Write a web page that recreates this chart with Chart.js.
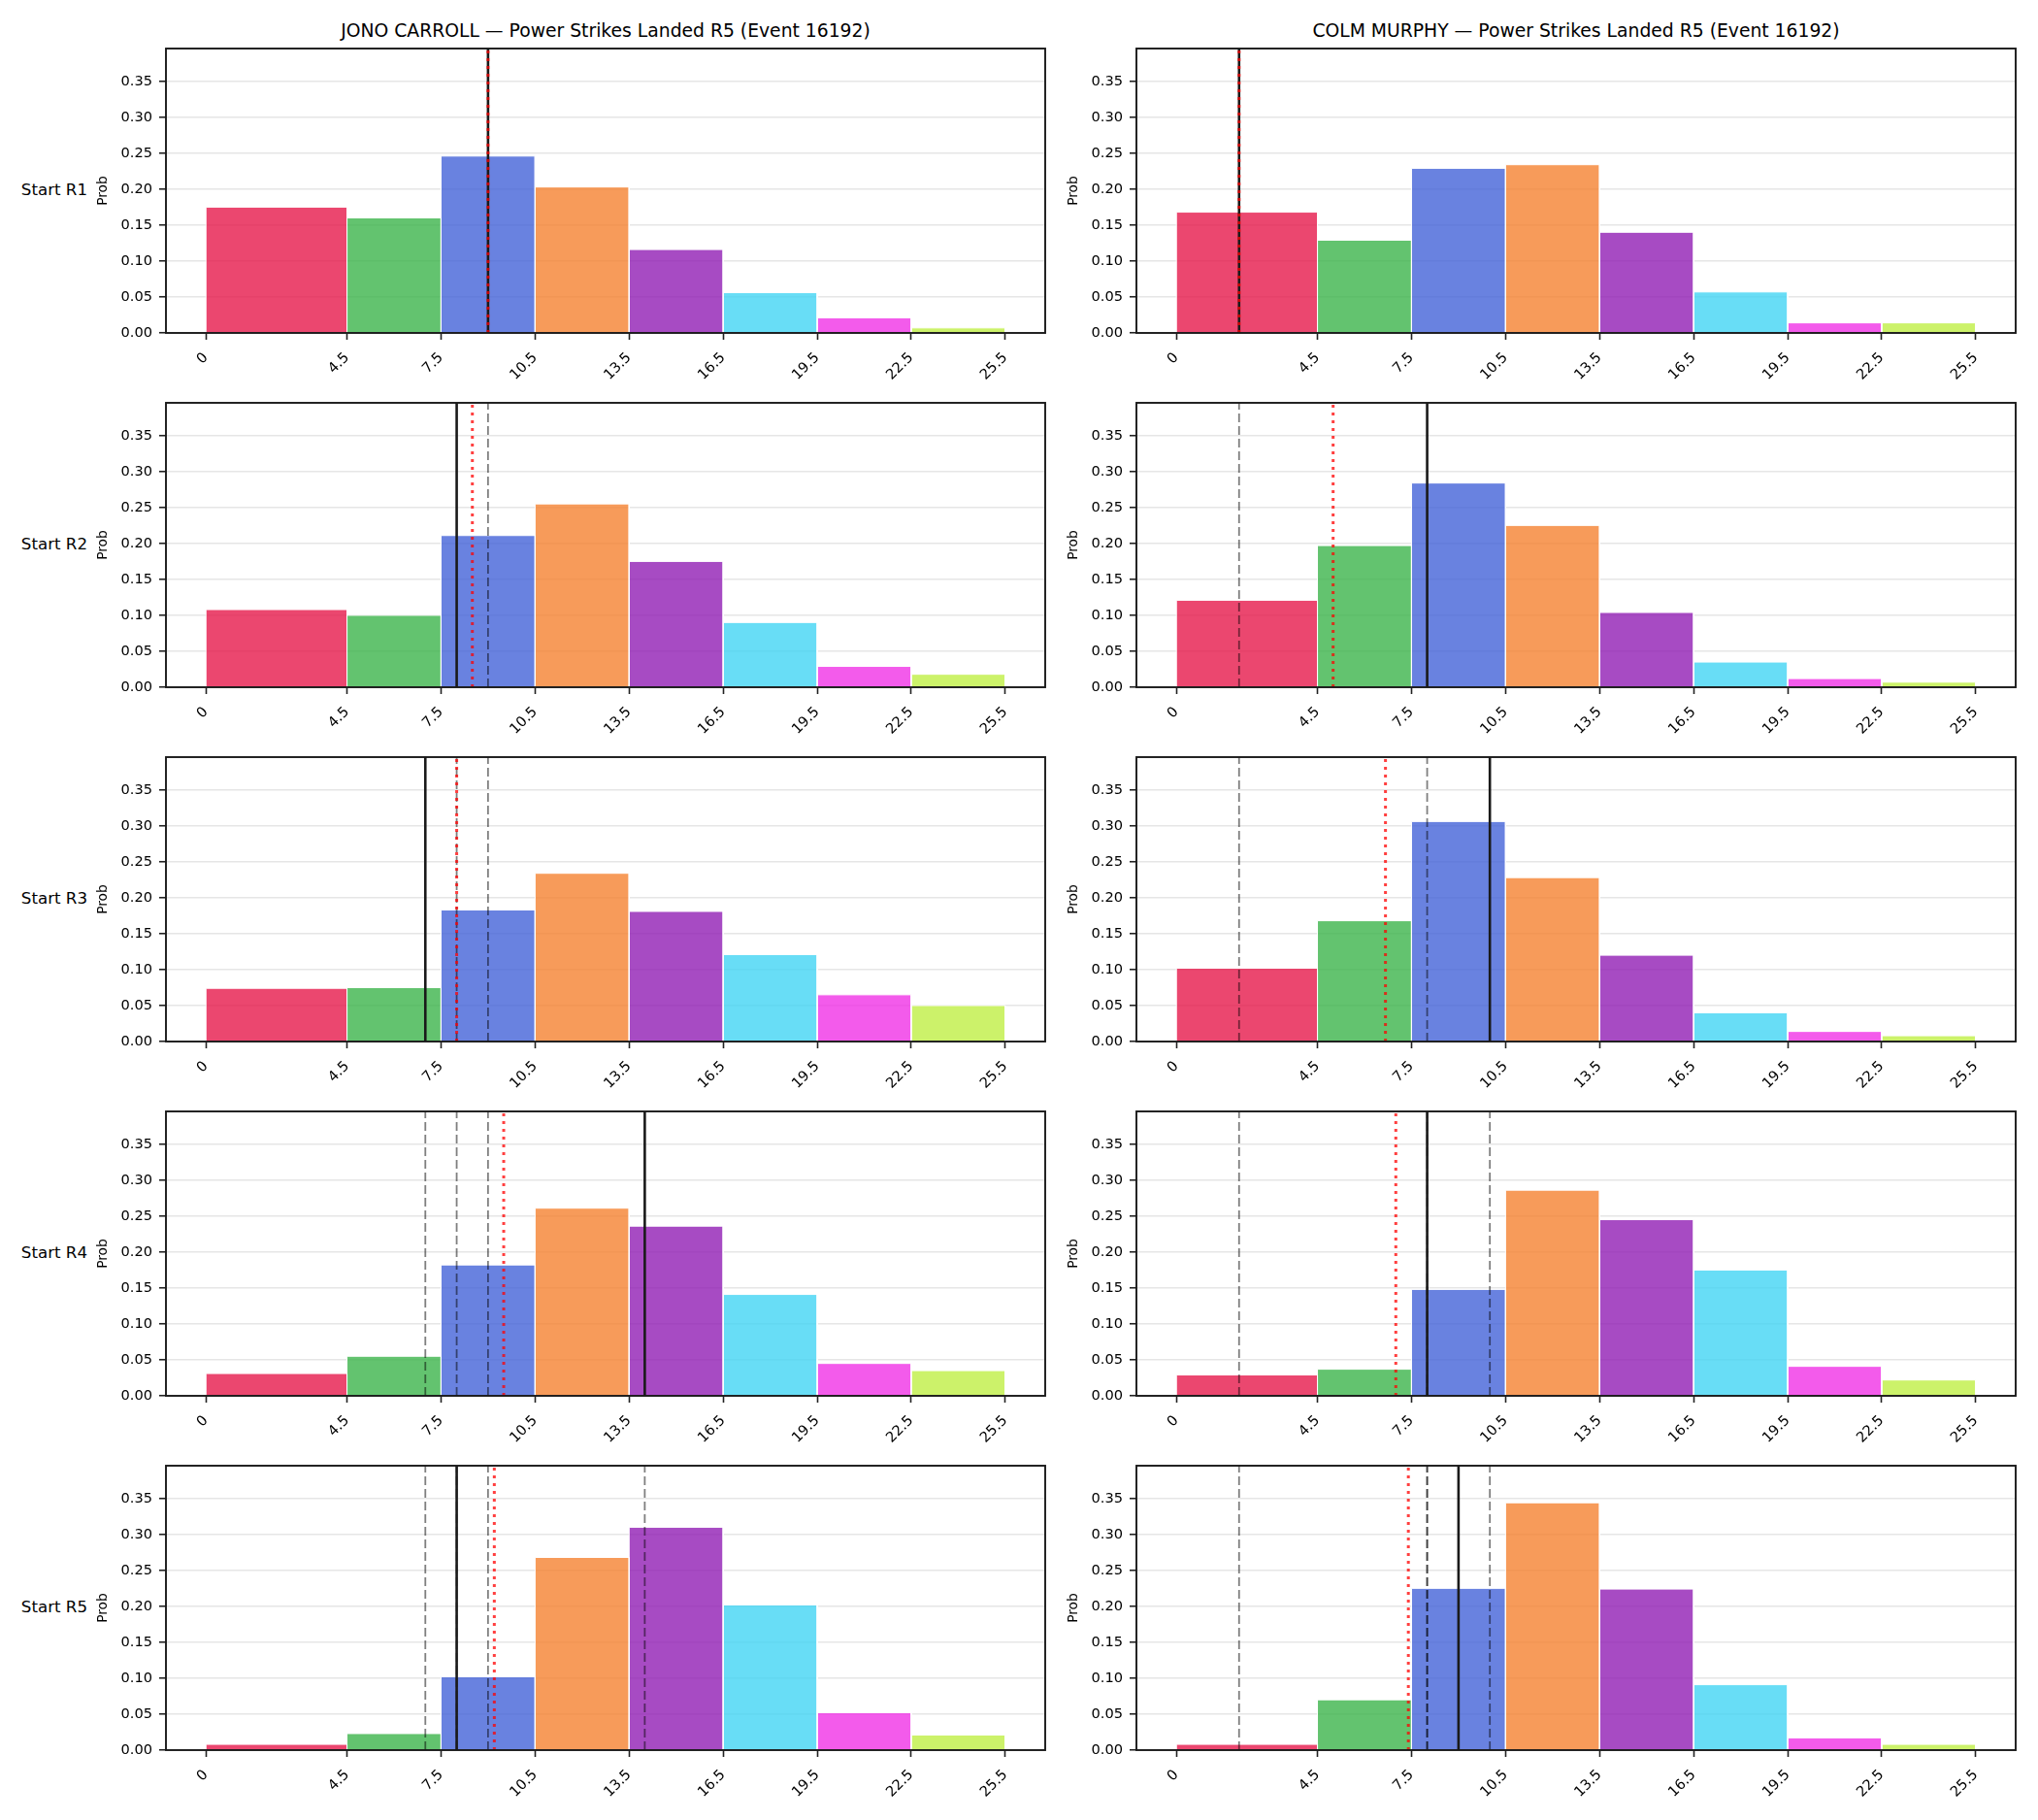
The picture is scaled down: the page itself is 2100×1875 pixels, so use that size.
<!DOCTYPE html>
<html>
<head>
<meta charset="utf-8">
<script src="https://cdn.jsdelivr.net/npm/chart.js@4.4.1/dist/chart.umd.min.js"></script>
<style>
  body { margin: 0; background: #fff; }
  #page { position: relative; width: 2100px; height: 1875px; background: #fff; font-family: 'DejaVu Sans', sans-serif; overflow: hidden; }
  #page canvas { position: absolute; }
  .title { position: absolute; font-size: 18.75px; line-height: 22px; text-align: center; color: #000; white-space: nowrap; }
  .rowLabel { position: absolute; font-size: 16.67px; line-height: 20px; text-align: right; color: #000; white-space: nowrap; }
</style>
</head>
<body>
<div id="page"></div>
<script>
// bins + ticks
const binEdges = [0, 4.5, 7.5, 10.5, 13.5, 16.5, 19.5, 22.5, 25.5];
const xTickLabels = ['0', '4.5', '7.5', '10.5', '13.5', '16.5', '19.5', '22.5', '25.5'];
const yTicks = [0, 0.05, 0.10, 0.15, 0.20, 0.25, 0.30, 0.35];
const yMax = 0.3956;
const rowLabels = ['Start R1', 'Start R2', 'Start R3', 'Start R4', 'Start R5'];
const fighters = ['JONO CARROLL', 'COLM MURPHY'];
const titleSuffix = ' \u2014 Power Strikes Landed R5 (Event 16192)';
const binColors = [
  'rgba(230,25,75,0.8)', 'rgba(60,180,75,0.8)', 'rgba(67,99,216,0.8)', 'rgba(245,130,49,0.8)',
  'rgba(145,30,180,0.8)', 'rgba(66,212,244,0.8)', 'rgba(240,50,230,0.8)', 'rgba(191,239,69,0.8)'
];

// probability per bin, one row per starting round
const carrollProbs = [
  [0.175, 0.160, 0.246, 0.203, 0.116, 0.056, 0.021, 0.007],
  [0.108, 0.100, 0.211, 0.255, 0.175, 0.090, 0.029, 0.018],
  [0.074, 0.075, 0.183, 0.234, 0.181, 0.121, 0.065, 0.050],
  [0.031, 0.055, 0.182, 0.261, 0.236, 0.141, 0.045, 0.035],
  [0.008, 0.023, 0.102, 0.268, 0.310, 0.202, 0.052, 0.021]
];
const murphyProbs = [
  [0.168, 0.129, 0.229, 0.234, 0.140, 0.057, 0.014, 0.014],
  [0.121, 0.197, 0.284, 0.225, 0.104, 0.035, 0.012, 0.007],
  [0.102, 0.168, 0.306, 0.228, 0.120, 0.040, 0.014, 0.008],
  [0.029, 0.037, 0.148, 0.286, 0.245, 0.175, 0.041, 0.022],
  [0.008, 0.070, 0.225, 0.344, 0.224, 0.091, 0.017, 0.008]
];

// actual strikes per round (solid = this round, dashed = earlier rounds), red dotted = running mean
const carrollActual = [9, 8, 7, 14, 8];
const carrollMean = [9, 8.5, 8, 9.5, 9.2];
const murphyActual = [2, 8, 10, 8, 9];
const murphyMean = [2, 5, 6.67, 7, 7.4];

// layout (px)
const colLeft = [171, 1171];
const rowTop = [50, 415, 780, 1145, 1510];
const axesW = 906, axesH = 293;
const YW = 90, PAD_T = 10, PAD_R = 4, XH = 62;

Chart.defaults.font.family = "'DejaVu Sans', sans-serif";
Chart.defaults.color = '#000';

const page = document.getElementById('page');

const spinePlugin = {
  id: 'spines',
  afterDatasetsDraw(chart) {
    const a = chart.chartArea;
    const ctx = chart.ctx;
    ctx.save();
    ctx.strokeStyle = '#1a1a1a';
    ctx.lineWidth = 1.9;
    ctx.strokeRect(a.left, a.top, a.right - a.left, a.bottom - a.top);
    ctx.restore();
  }
};

// no auto padding from tick labels, keep the axes box where it was measured
function noPad(s) {
  s.paddingTop = 0; s.paddingBottom = 0; s.paddingLeft = 0; s.paddingRight = 0;
}

function vline(x, color, width, dash, order) {
  return {
    data: [{x: x, y: 0}, {x: x, y: yMax}],
    borderColor: color, borderWidth: width, borderDash: dash,
    fill: false, pointRadius: 0, tension: 0, order: order
  };
}

function makePanel(col, row, probs, actual, mean) {
  const canvas = document.createElement('canvas');
  const w = YW + axesW + PAD_R, h = PAD_T + axesH + XH;
  canvas.width = w; canvas.height = h;
  canvas.style.left = (colLeft[col] - YW) + 'px';
  canvas.style.top = (rowTop[row] - PAD_T) + 'px';
  canvas.style.width = w + 'px'; canvas.style.height = h + 'px';
  page.appendChild(canvas);

  const datasets = probs.map((p, i) => ({
    data: [{x: binEdges[i], y: 0}, {x: binEdges[i], y: p}, {x: binEdges[i + 1], y: p}, {x: binEdges[i + 1], y: 0}],
    backgroundColor: binColors[i], borderColor: '#ffffff', borderWidth: 1,
    fill: 'origin', pointRadius: 0, tension: 0, order: 3
  }));
  for (let k = 0; k < row; k++) {
    datasets.push(vline(actual[k], 'rgba(0,0,0,0.5)', 1.8, [9, 4], 2));
  }
  datasets.push(vline(actual[row], '#1a1a1a', 2.6, [], 1));
  datasets.push(vline(mean[row], 'rgba(255,0,0,0.75)', 3, [3, 5], 0));

  new Chart(canvas, {
    type: 'line',
    data: { datasets: datasets },
    options: {
      responsive: false,
      animation: false,
      devicePixelRatio: 1,
      layout: { padding: { top: PAD_T, right: PAD_R, bottom: 0, left: 0 } },
      plugins: { legend: { display: false }, tooltip: { enabled: false } },
      scales: {
        x: {
          type: 'linear', min: -1.275, max: 26.775,
          afterBuildTicks: s => { s.ticks = binEdges.map(v => ({value: v})); },
          afterFit: s => { s.height = XH; noPad(s); },
          grid: { drawOnChartArea: false, drawTicks: true, tickLength: 7, tickColor: '#222', tickWidth: 1.6 },
          border: { display: false },
          ticks: {
            autoSkip: false, minRotation: 45, maxRotation: 45, padding: 10,
            font: { size: 14.6 }, color: '#000',
            callback: (v, i) => xTickLabels[i]
          }
        },
        y: {
          min: 0, max: yMax,
          afterBuildTicks: s => { s.ticks = yTicks.map(v => ({value: v})); },
          afterFit: s => { s.width = YW; noPad(s); },
          grid: { color: '#e6e6e6', lineWidth: 1.5, tickLength: 7, tickColor: '#222', tickWidth: 1.6 },
          border: { display: false },
          ticks: { padding: 7, font: { size: 14.6 }, color: '#000', callback: v => v.toFixed(2) },
          title: { display: true, text: 'Prob', font: { size: 13.8 }, color: '#000', padding: { top: 17.4, bottom: 0 } }
        }
      }
    },
    plugins: [spinePlugin]
  });
}

// titles
fighters.forEach((name, c) => {
  const t = document.createElement('div');
  t.className = 'title';
  t.style.left = colLeft[c] + 'px';
  t.style.width = axesW + 'px';
  t.style.top = '21px';
  t.textContent = name + titleSuffix;
  page.appendChild(t);
});

// row labels
rowLabels.forEach((lab, r) => {
  const d = document.createElement('div');
  d.className = 'rowLabel';
  d.style.left = '0px';
  d.style.width = '90px';
  d.style.top = (rowTop[r] + 136) + 'px';
  d.textContent = lab;
  page.appendChild(d);
});

for (let r = 0; r < 5; r++) {
  makePanel(0, r, carrollProbs[r], carrollActual, carrollMean);
  makePanel(1, r, murphyProbs[r], murphyActual, murphyMean);
}
</script>
</body>
</html>
